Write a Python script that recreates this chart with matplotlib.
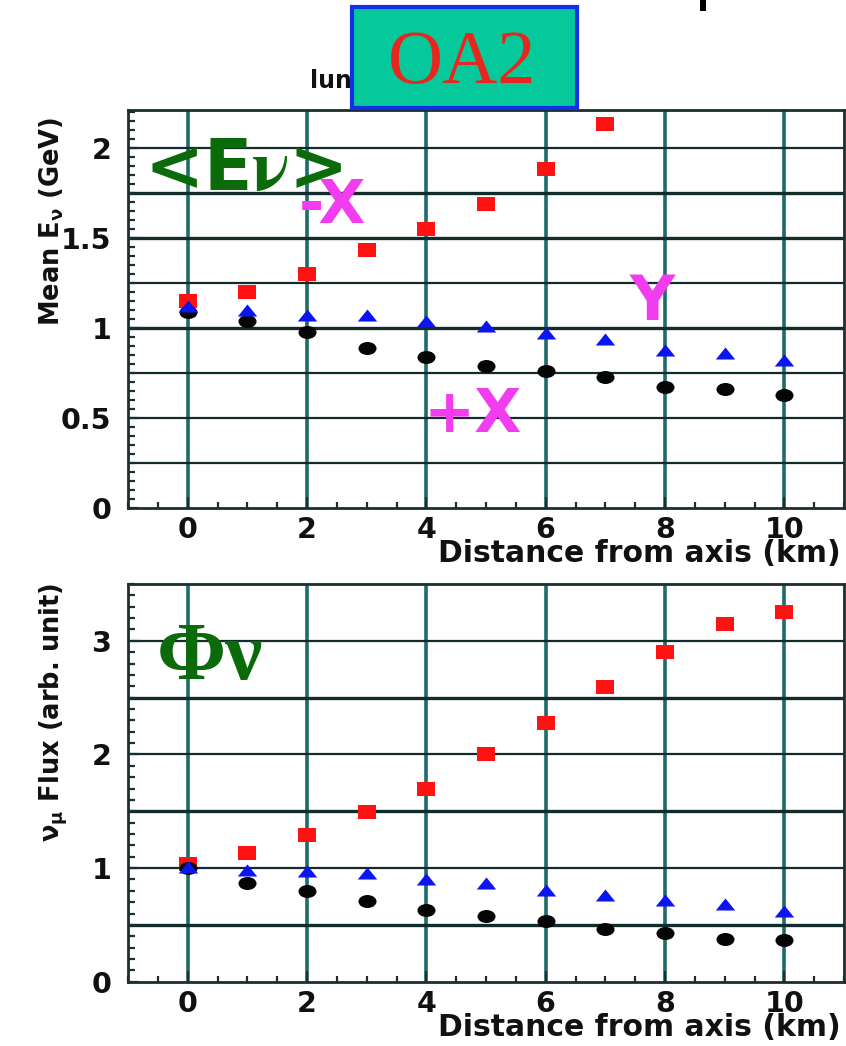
import numpy as np
import matplotlib
matplotlib.use("Agg")
import matplotlib.pyplot as plt
from matplotlib.path import Path
from matplotlib.patches import Rectangle
from matplotlib.ticker import MultipleLocator, FuncFormatter

# ---- data -------------------------------------------------------------
distance_km = [0, 1, 2, 3, 4, 5, 6, 7, 8, 9, 10]

# mean neutrino energy (GeV) vs. distance from beam axis
mean_e_minus_x = [1.15, 1.20, 1.30, 1.43, 1.55, 1.69, 1.88, 2.13]
mean_e_y = [1.12, 1.10, 1.07, 1.07, 1.04, 1.01, 0.97, 0.94, 0.88, 0.86, 0.82]
mean_e_plus_x = [1.09, 1.04, 0.98, 0.89, 0.84, 0.79, 0.76, 0.73, 0.67, 0.66, 0.63]

# numu flux (arb. unit) vs. distance from beam axis
flux_minus_x = [1.04, 1.13, 1.29, 1.49, 1.70, 2.00, 2.28, 2.59, 2.90, 3.15, 3.25]
flux_y = [1.01, 0.98, 0.97, 0.96, 0.90, 0.87, 0.81, 0.76, 0.72, 0.68, 0.62]
flux_plus_x = [1.00, 0.87, 0.80, 0.71, 0.63, 0.58, 0.53, 0.46, 0.43, 0.38, 0.37]

x_ticks = [0, 2, 4, 6, 8, 10]
x_label = "Distance from axis (km)"
y_label_top = r"Mean E$_{\mathbf{\nu}}$ (GeV)"
y_label_bottom = r"$\mathbf{\nu_{\mu}}$ Flux (arb. unit)"

# ---- style ------------------------------------------------------------
plt.rcParams["font.family"] = ["DejaVu Sans"]
plt.rcParams["font.weight"] = "bold"

RED = "#ff1212"
BLUE = "#0c14f0"
BLACK = "#050505"
GREEN = "#0b6b0b"
MAGENTA = "#f23cf0"
VGRID = "#1e6b6b"
HGRID = "#122b2b"
SPINE = "#1c2e2e"

# slightly wide marker shapes
square = Path([(-1, -0.75), (1, -0.75), (1, 0.75), (-1, 0.75), (-1, -0.75)],
              [Path.MOVETO, Path.LINETO, Path.LINETO, Path.LINETO, Path.CLOSEPOLY])
triangle = Path([(-1, -0.62), (1, -0.62), (0, 0.62), (-1, -0.62)],
                [Path.MOVETO, Path.LINETO, Path.LINETO, Path.CLOSEPOLY])
circ = Path.unit_circle()
ellipse = Path(circ.vertices * np.array([1.0, 0.72]), circ.codes)

fig = plt.figure(figsize=(8.46, 10.46), dpi=100)
fig.patch.set_facecolor("white")

L = 128 / 846
W = (844 - 128) / 846
ax_top = fig.add_axes([L, 1 - 508 / 1046, W, 398 / 1046])
ax_bot = fig.add_axes([L, 1 - 981.7 / 1046, W, 397.7 / 1046])


def style_axes(ax, ymax, ymajor, yminor, hlines, thick):
    ax.set_xlim(-1, 11)
    ax.set_ylim(0, ymax)
    for xv in x_ticks:
        ax.axvline(xv, color=VGRID, lw=2.6, zorder=1)
    for yv in hlines:
        ax.axhline(yv, color=HGRID, lw=2.4 if yv in thick else 1.6, zorder=1)
    for s in ax.spines.values():
        s.set_color(SPINE)
        s.set_linewidth(2.0)
        s.set_zorder(2)
    ax.set_xticks(x_ticks)
    ax.xaxis.set_minor_locator(MultipleLocator(0.5))
    ax.yaxis.set_major_locator(MultipleLocator(ymajor))
    ax.yaxis.set_minor_locator(MultipleLocator(yminor))
    ax.yaxis.set_major_formatter(FuncFormatter(lambda v, p: f"{v:g}"))
    ax.tick_params(axis="both", which="both", direction="in", colors=SPINE,
                   top=False, right=False, width=1.6)
    ax.tick_params(axis="y", which="major", length=8, pad=12, labelsize=20.5,
                   labelcolor="#111111")
    ax.tick_params(axis="y", which="minor", length=5)
    ax.tick_params(axis="x", which="major", length=8, pad=6, labelsize=20.5,
                   labelcolor="#111111")
    ax.tick_params(axis="x", which="minor", length=4)
    for lab in ax.get_xticklabels() + ax.get_yticklabels():
        lab.set_fontweight("bold")
    ax.text(0.996, -0.136, x_label, transform=ax.transAxes, ha="right",
            va="baseline", fontsize=21.5, fontweight="bold", color="#111111")


style_axes(ax_top, 2.21, 0.5, 0.05,
           [0.25, 0.5, 0.75, 1.0, 1.25, 1.5, 1.75, 2.0], [1.0, 1.5, 1.75])
style_axes(ax_bot, 3.5, 1.0, 0.1,
           [0.5, 1.0, 1.5, 2.0, 2.5, 3.0], [0.5, 1.5, 2.5])

# ---- markers ------------------------------------------------------------
def draw_series(ax, minus_x, y_dir, plus_x):
    ax.plot(distance_km[:len(minus_x)], minus_x, linestyle="none", marker=square,
            markersize=13, color=RED, markeredgewidth=0, zorder=3, clip_on=False)
    ax.plot(distance_km[:len(plus_x)], plus_x, linestyle="none", marker=ellipse,
            markersize=13, color=BLACK, markeredgewidth=0, zorder=4)
    ax.plot(distance_km[:len(y_dir)], y_dir, linestyle="none", marker=triangle,
            markersize=14, color=BLUE, markeredgewidth=0, zorder=5)


draw_series(ax_top, mean_e_minus_x, mean_e_y, mean_e_plus_x)
draw_series(ax_bot, flux_minus_x, flux_y, flux_plus_x)

# ---- y labels -----------------------------------------------------------
ax_top.text(-0.095, 0.72, y_label_top, transform=ax_top.transAxes, rotation=90,
            rotation_mode="anchor", ha="center", va="baseline", fontsize=18.5,
            fontweight="bold", color="#111111")
ax_bot.text(-0.095, 0.678, y_label_bottom, transform=ax_bot.transAxes, rotation=90,
            rotation_mode="anchor", ha="center", va="baseline", fontsize=18.5,
            fontweight="bold", color="#111111")

# ---- in-plot annotations ----------------------------------------------------
ax_top.text(0.93, 1.767, r"<E$\mathbf{\nu}$>", ha="center", va="baseline",
            fontsize=51, fontweight="bold", color=GREEN, math_fontfamily="stix",
            zorder=6)
ax_top.text(2.42, 1.583, "-X", ha="center", va="baseline", fontsize=44,
            fontweight="bold", color=MAGENTA, zorder=6)
ax_top.text(4.77, 0.422, "+X", ha="center", va="baseline", fontsize=44,
            fontweight="bold", color=MAGENTA, zorder=6)
ax_top.text(7.79, 1.044, "Y", ha="center", va="baseline", fontsize=45,
            fontweight="bold", color=MAGENTA, zorder=6)

ax_bot.text(0.37, 2.66, "Φν", ha="center", va="baseline", fontsize=60,
            fontweight="bold", family=["Liberation Serif", "DejaVu Serif"],
            color=GREEN, zorder=6)

# ---- title box ----------------------------------------------------------
fig.text(352 / 846, 1 - 88 / 1046, "lun", ha="right", va="baseline",
         fontsize=17, fontweight="bold", color="#111111")
fig.patches.append(Rectangle((352 / 846, 1 - 108 / 1046), 225 / 846, 101 / 1046,
                             transform=fig.transFigure, facecolor="#05c99a",
                             edgecolor="#1430e6", linewidth=3, zorder=5))
fig.text(462 / 846, 1 - 83 / 1046, "OA2", ha="center", va="baseline",
         fontsize=55, family=["Liberation Serif"], fontweight="normal",
         color="#e8261e", zorder=6)
fig.patches.append(Rectangle((700 / 846, 1 - 11 / 1046), 6 / 846, 11 / 1046,
                             transform=fig.transFigure, facecolor="black",
                             edgecolor="none", zorder=5))

fig.savefig("out.png", dpi=100, facecolor="white")
